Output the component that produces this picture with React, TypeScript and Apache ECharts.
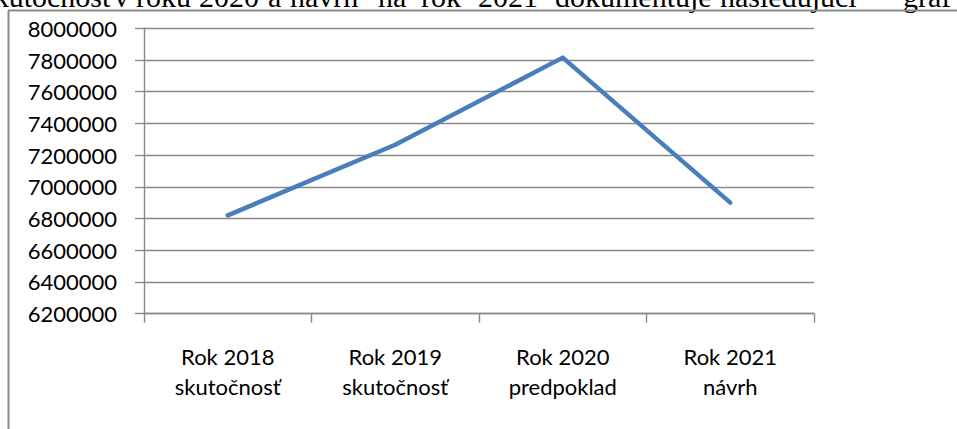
import React, { useEffect, useRef } from "react";
import * as echarts from "echarts";

const categories = [
  "Rok 2018\nskutočnosť",
  "Rok 2019\nskutočnosť",
  "Rok 2020\npredpoklad",
  "Rok 2021\nnávrh",
];
const values = [6820000, 7265000, 7815000, 6900000];
const yMin = 6200000;
const yMax = 8000000;
const yStep = 200000;

const headerWords = [
  "skutočnosť", "v", "roku", "2020", "a", "návrh", "na", "rok", "2021",
  "dokumentuje", "nasledujúci", "graf",
];
const headerX = [-18, 114, 136, 199, 268, 290, 378, 421, 478, 555, 720, 903];

export default function App() {
  const ref = useRef<HTMLDivElement>(null);
  useEffect(() => {
    if (!ref.current) return;
    const chart = echarts.init(ref.current, null, { renderer: "svg" });
    const labelFont = "Lato, 'Open Sans', sans-serif";
    const gray = "#898989";
    chart.setOption({
      animation: false,
      backgroundColor: "#ffffff",
      grid: { left: 144, right: 143, top: 28.3, bottom: 115.4, containLabel: false },
      xAxis: {
        type: "category",
        data: categories,
        boundaryGap: true,
        axisLine: { show: true, lineStyle: { color: gray, width: 1.4 } },
        axisTick: { show: true, length: 9, alignWithLabel: false, lineStyle: { color: gray, width: 1.4 } },
        axisLabel: {
          color: "#000000",
          fontFamily: labelFont,
          fontSize: 22,
          lineHeight: 30,
          margin: 28,
          interval: 0,
        },
        splitLine: { show: false },
      },
      yAxis: {
        type: "value",
        min: yMin,
        max: yMax,
        interval: yStep,
        axisLine: { show: true, lineStyle: { color: gray, width: 1.4 } },
        axisTick: { show: true, length: 9, lineStyle: { color: gray, width: 1.4 } },
        axisLabel: {
          color: "#000000",
          fontFamily: labelFont,
          fontSize: 22,
          margin: 27,
          formatter: (v: number) => String(Math.round(v)),
        },
        splitLine: { show: true, lineStyle: { color: gray, width: 1.4 } },
      },
      series: [
        {
          type: "line",
          data: values,
          showSymbol: false,
          symbol: "none",
          lineStyle: { color: "#4a7ebb", width: 4.5, cap: "round", join: "round" },
          itemStyle: { color: "#4a7ebb" },
        },
      ],
      graphic: [
        ...headerWords.map((w, i) => ({
          type: "text",
          x: headerX[i],
          y: -4,
          style: {
            text: w,
            fill: "#000000",
            font: "30px 'Liberation Serif', 'Times New Roman', serif",
            verticalAlign: "middle",
            align: "left",
          },
        })),
        {
          type: "line",
          shape: { x1: 8.5, y1: 10.5, x2: 8.5, y2: 429 },
          style: { stroke: "#8a8a8a", lineWidth: 2 },
        },
        {
          type: "line",
          shape: { x1: 8, y1: 10.5, x2: 957, y2: 10.5 },
          style: { stroke: "#8a8a8a", lineWidth: 2 },
        },
      ],
    });
    return () => chart.dispose();
  }, []);
  return (
    <div
      ref={ref}
      style={{ position: "fixed", left: 0, top: 0, width: 957, height: 429, background: "#fff" }}
    />
  );
}
